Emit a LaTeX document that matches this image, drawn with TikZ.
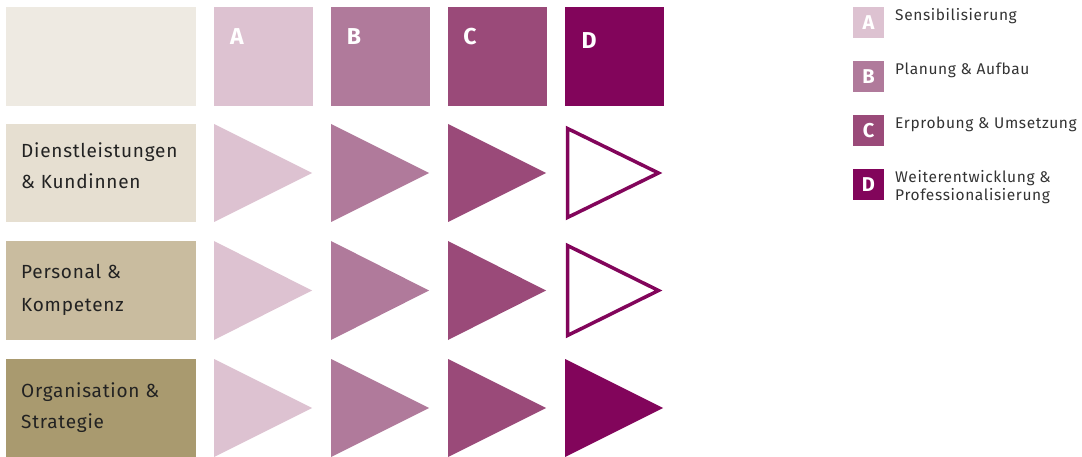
\documentclass[tikz,border=0pt]{standalone}
\usepackage{fontspec}
\setmainfont{Fira Sans}
\newfontfamily\lblfont[LetterSpace=4]{Fira Sans}
\newfontfamily\letfont{Fira Sans Bold}
\begin{document}
\begin{tikzpicture}[x=1pt,y=-1pt]
\definecolor{bgtop}{HTML}{EEEAE2}
\definecolor{rowone}{HTML}{E6DFD1}
\definecolor{rowtwo}{HTML}{C9BC9F}
\definecolor{rowthree}{HTML}{A99A6F}
\definecolor{colA}{HTML}{DDC2D1}
\definecolor{colB}{HTML}{B07A9B}
\definecolor{colC}{HTML}{9A4A79}
\definecolor{colD}{HTML}{82055B}
\definecolor{txt}{HTML}{222222}
\definecolor{legtxt}{HTML}{333333}
\tikzset{
  rowlabel/.style={anchor=base west,inner sep=0pt,text=txt,font=\lblfont\fontsize{19}{22}\selectfont},
  bigletter/.style={inner sep=0pt,text=white,font=\letfont\fontsize{23}{26}\selectfont},
  legletter/.style={inner sep=0pt,text=white,font=\letfont\fontsize{20}{22}\selectfont},
  legtext/.style={anchor=base west,inner sep=0pt,text=legtxt,font=\lblfont\fontsize{15.5}{18}\selectfont,align=left}
}
\useasboundingbox (0,0) rectangle (1082,457);
% top row
\fill[bgtop] (6,7) rectangle (196,106);
\fill[colA] (214,7) rectangle (313,106);
\fill[colB] (331,7) rectangle (430,106);
\fill[colC] (448,7) rectangle (547,106);
\fill[colD] (565,7) rectangle (664,106);
\node[bigletter] (la) at (237,37) {A};
\node[bigletter] (lb) at (354,37) {B};
\node[bigletter] (lc) at (470,37) {C};
\node[bigletter] (ld) at (589,41) {D};
% row boxes
\fill[rowone] (6,124) rectangle (196,222);
\fill[rowtwo] (6,241) rectangle (196,340);
\fill[rowthree] (6,359) rectangle (196,457);
\node[rowlabel] (r1a) at (21,158) {Dienstleistungen};
\node[rowlabel] (r1b) at (21,189) {\& Kundinnen};
\node[rowlabel] (r2a) at (21,279) {Personal \&};
\node[rowlabel] (r2b) at (21,311) {Kompetenz};
\node[rowlabel] (r3a) at (21,397) {Organisation \&};
\node[rowlabel] (r3b) at (21,428) {Strategie};
% triangles
\foreach \yt/\yb in {124/222,241/340,359/457}{
  \fill[colA] (214,\yt) -- (312,{(\yt+\yb)/2}) -- (214,\yb) -- cycle;
  \fill[colB] (331,\yt) -- (429,{(\yt+\yb)/2}) -- (331,\yb) -- cycle;
  \fill[colC] (448,\yt) -- (546,{(\yt+\yb)/2}) -- (448,\yb) -- cycle;
}
\draw[colD,line width=3.5pt,line join=miter] (567.5,128.5) -- (658.5,173) -- (567.5,217.5) -- cycle;
\draw[colD,line width=3.5pt,line join=miter] (567.5,245.5) -- (658.5,290.5) -- (567.5,335.5) -- cycle;
\fill[colD] (565,359) -- (663,408) -- (565,457) -- cycle;
% legend
\fill[colA] (853,7) rectangle (884,38);
\fill[colB] (853,61) rectangle (884,92);
\fill[colC] (853,115) rectangle (884,146);
\fill[colD] (853,169) rectangle (884,200);
\node[legletter] (ka) at (868.5,22.5) {A};
\node[legletter] (kb) at (868.5,76.5) {B};
\node[legletter] (kc) at (868.5,130.5) {C};
\node[legletter] (kd) at (868.5,184.5) {D};
\node[legtext] (ta) at (895,21) {Sensibilisierung};
\node[legtext] (tb) at (895,75) {Planung \& Aufbau};
\node[legtext] (tc) at (895,129) {Erprobung \& Umsetzung};
\node[legtext] (td) at (895,183) {Weiterentwicklung \&};
\node[legtext] (te) at (895,201) {Professionalisierung};
\end{tikzpicture}
\end{document}
